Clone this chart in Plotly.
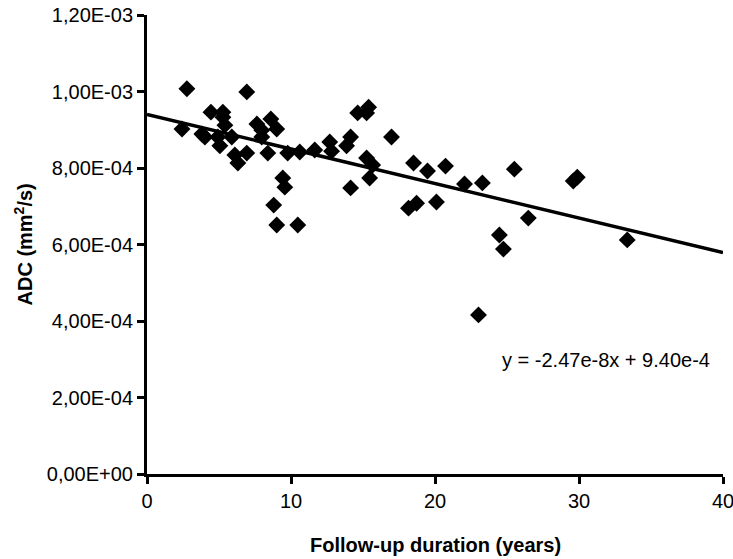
import plotly.graph_objects as go

# Follow-up duration (years)
follow_up = [2.43, 2.77, 3.81, 4.02, 4.44, 4.92, 5.06, 5.27, 5.27, 5.41,
             5.89, 6.10, 6.31, 6.93, 6.93, 7.63, 7.97, 7.97, 8.60, 9.01,
             8.39, 9.43, 9.57, 8.80, 9.01, 9.77, 10.47, 10.61, 11.65, 12.69,
             12.82, 13.86, 14.14, 14.14, 14.63, 15.25, 15.39, 15.25, 15.67, 15.46,
             16.98, 18.51, 19.48, 20.73, 18.16, 18.72, 20.10, 22.05, 23.29, 25.51,
             24.47, 24.75, 26.48, 23.02, 29.60, 29.88, 33.35]
# ADC (mm^2/s)
adc = [9.02e-4, 1.007e-3, 8.89e-4, 8.81e-4, 9.46e-4, 8.81e-4, 8.58e-4, 9.46e-4, 9.33e-4, 9.12e-4,
       8.81e-4, 8.34e-4, 8.13e-4, 9.99e-4, 8.39e-4, 9.15e-4, 8.99e-4, 8.81e-4, 9.28e-4, 9.02e-4,
       8.39e-4, 7.74e-4, 7.50e-4, 7.03e-4, 6.51e-4, 8.39e-4, 6.51e-4, 8.42e-4, 8.47e-4, 8.68e-4,
       8.44e-4, 8.58e-4, 8.81e-4, 7.48e-4, 9.44e-4, 9.44e-4, 9.59e-4, 8.26e-4, 8.08e-4, 7.74e-4,
       8.81e-4, 8.13e-4, 7.92e-4, 8.05e-4, 6.95e-4, 7.08e-4, 7.11e-4, 7.58e-4, 7.61e-4, 7.97e-4,
       6.25e-4, 5.88e-4, 6.69e-4, 4.16e-4, 7.66e-4, 7.76e-4, 6.12e-4]

# Trend line (slope given per day in the equation)
slope_per_day = -2.47e-8
intercept = 9.40e-4
days_per_year = 365.25
trend_x = [0, 40]
trend_y = [intercept + slope_per_day * days_per_year * x for x in trend_x]

y_tickvals = [0, 2e-4, 4e-4, 6e-4, 8e-4, 1e-3, 1.2e-3]
y_ticktext = ["0,00E+00", "2,00E-04", "4,00E-04", "6,00E-04", "8,00E-04", "1,00E-03", "1,20E-03"]
x_tickvals = [0, 10, 20, 30, 40]

FONT = "Liberation Sans, Arial, sans-serif"

fig = go.Figure()
fig.add_trace(go.Scatter(x=trend_x, y=trend_y, mode="lines",
                         line=dict(color="black", width=3.5), hoverinfo="skip",
                         showlegend=False))
fig.add_trace(go.Scatter(x=follow_up, y=adc, mode="markers",
                         marker=dict(symbol="diamond", size=13, color="black"),
                         showlegend=False, cliponaxis=False))

fig.update_layout(
    width=733, height=559,
    margin=dict(l=147, r=10, t=15, b=85, autoexpand=False),
    paper_bgcolor="white", plot_bgcolor="white",
    font=dict(family=FONT, size=20, color="black"),
    xaxis=dict(range=[0, 40], tickvals=x_tickvals, showgrid=False, zeroline=False,
               showline=True, linecolor="black", linewidth=3,
               ticks="outside", ticklen=7, tickwidth=3, tickcolor="black",
               ticklabeloverflow="allow", automargin=False,
               tickfont=dict(size=20, color="black")),
    yaxis=dict(range=[0, 1.2e-3], tickvals=y_tickvals, ticktext=y_ticktext,
               showgrid=False, zeroline=False, automargin=False,
               showline=True, linecolor="black", linewidth=3,
               ticks="outside", ticklen=7, tickwidth=3, tickcolor="black",
               tickfont=dict(size=20, color="black")),
    annotations=[
        dict(text="<b>Follow-up duration (years)</b>", xref="paper", yref="paper",
             x=0.5, y=0, yshift=-71, xanchor="center", yanchor="middle",
             showarrow=False, font=dict(size=20)),
        dict(text="<b>ADC (mm<sup>2</sup>/s)</b>", xref="paper", yref="paper",
             x=0, y=0.5, xshift=-124, xanchor="center", yanchor="middle",
             textangle=-90, showarrow=False, font=dict(size=20)),
        dict(text="y = -2.47e-8x + 9.40e-4", xref="x", yref="y",
             x=31.9, y=2.98e-4, xanchor="center", yanchor="middle",
             showarrow=False, font=dict(size=20)),
    ],
)

fig.write_html("out.html", config={"displayModeBar": False},
               post_script="document.body.style.margin='0';document.body.style.overflow='hidden';")
